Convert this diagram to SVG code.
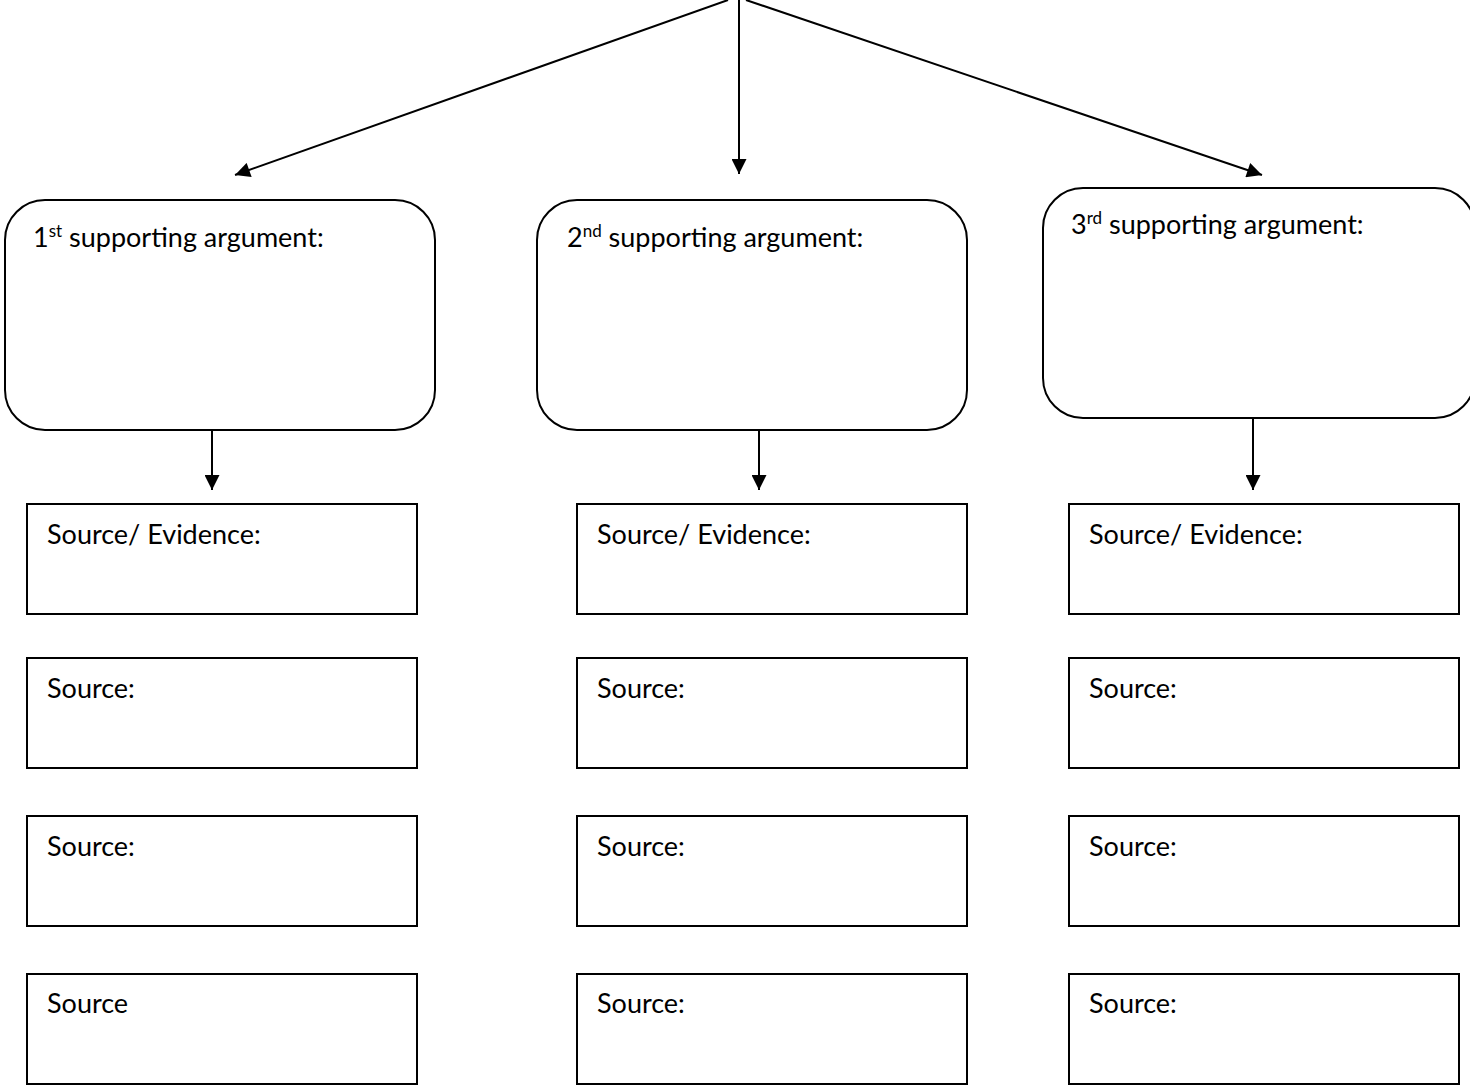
<svg xmlns="http://www.w3.org/2000/svg" width="1470" height="1089" viewBox="0 0 1470 1089">
<style>
.rb{fill:#fff;stroke:#000;stroke-width:2}
.sb{fill:#fff;stroke:#000;stroke-width:2}
.t{font-family:Lato,"Open Sans",sans-serif;font-size:27px;fill:#000}
.sup{font-size:17px}
.c{stroke:#000;stroke-width:2;fill:none;marker-end:url(#ah)}
</style>
<defs>
<marker id="ah" viewBox="0 0 10 10" refX="10" refY="5" markerWidth="17" markerHeight="15" markerUnits="userSpaceOnUse" orient="auto">
<path d="M0,0 L10,5 L0,10 z" fill="#000"/>
</marker>
</defs>
<rect width="1470" height="1089" fill="#fff"/>
<g id="connectors">
<line class="c" x1="728" y1="0" x2="235" y2="175"/>
<line class="c" x1="739" y1="0" x2="739" y2="174"/>
<line class="c" x1="746" y1="0" x2="1262" y2="175"/>
<line class="c" x1="212" y1="431" x2="212" y2="490"/>
<line class="c" x1="759" y1="431" x2="759" y2="490"/>
<line class="c" x1="1253" y1="419" x2="1253" y2="490"/>
</g>
<g id="arg1"><rect class="rb" x="5" y="200" width="430" height="230" rx="40" ry="40"/><text class="t" x="33" y="247">1<tspan class="sup" dy="-10">st</tspan><tspan dy="10"> supporting argument:</tspan></text></g>
<g id="arg2"><rect class="rb" x="537" y="200" width="430" height="230" rx="40" ry="40"/><text class="t" x="567" y="247">2<tspan class="sup" dy="-10">nd</tspan><tspan dy="10"> supporting argument:</tspan></text></g>
<g id="arg3"><rect class="rb" x="1043" y="188" width="432" height="230" rx="40" ry="40"/><text class="t" x="1071" y="234">3<tspan class="sup" dy="-10">rd</tspan><tspan dy="10"> supporting argument:</tspan></text></g>
<g id="s1a"><rect class="sb" x="27" y="504" width="390" height="110"/><text class="t" x="47" y="544">Source/ Evidence:</text></g>
<g id="s2a"><rect class="sb" x="577" y="504" width="390" height="110"/><text class="t" x="597" y="544">Source/ Evidence:</text></g>
<g id="s3a"><rect class="sb" x="1069" y="504" width="390" height="110"/><text class="t" x="1089" y="544">Source/ Evidence:</text></g>
<g id="s1b"><rect class="sb" x="27" y="658" width="390" height="110"/><text class="t" x="47" y="698">Source:</text></g>
<g id="s2b"><rect class="sb" x="577" y="658" width="390" height="110"/><text class="t" x="597" y="698">Source:</text></g>
<g id="s3b"><rect class="sb" x="1069" y="658" width="390" height="110"/><text class="t" x="1089" y="698">Source:</text></g>
<g id="s1c"><rect class="sb" x="27" y="816" width="390" height="110"/><text class="t" x="47" y="856">Source:</text></g>
<g id="s2c"><rect class="sb" x="577" y="816" width="390" height="110"/><text class="t" x="597" y="856">Source:</text></g>
<g id="s3c"><rect class="sb" x="1069" y="816" width="390" height="110"/><text class="t" x="1089" y="856">Source:</text></g>
<g id="s1d"><rect class="sb" x="27" y="974" width="390" height="110"/><text class="t" x="47" y="1013">Source</text></g>
<g id="s2d"><rect class="sb" x="577" y="974" width="390" height="110"/><text class="t" x="597" y="1013">Source:</text></g>
<g id="s3d"><rect class="sb" x="1069" y="974" width="390" height="110"/><text class="t" x="1089" y="1013">Source:</text></g>
</svg>
